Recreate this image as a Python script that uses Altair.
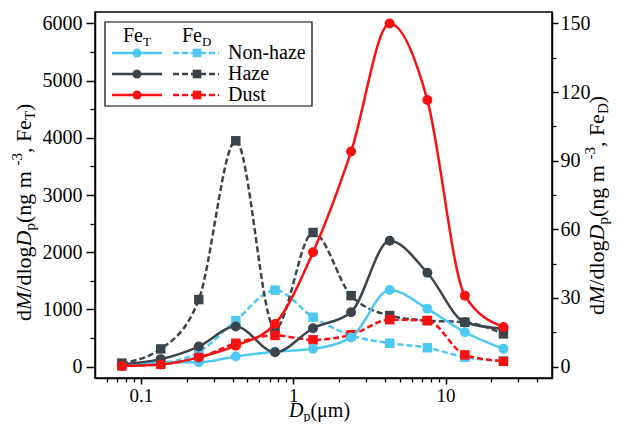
import altair as alt
import pandas as pd

# ---------------- data ----------------
sizes = [0.075, 0.135, 0.24, 0.42, 0.76, 1.35, 2.4, 4.3, 7.6, 13.4, 24.0]
groups = ["Non-haze", "Haze", "Dust"]
colors = ["#4EC8F2", "#3B444B", "#FA1010"]

feT_nonhaze = [20, 80, 75, 175, 260, 310, 510, 1340, 1010, 600, 310]
feT_haze = [40, 130, 350, 700, 250, 670, 950, 2200, 1640, 775, 660]
feT_dust = [10, 35, 160, 365, 745, 2000, 3760, 6000, 4660, 1240, 690]

feD_nonhaze = [0.5, 1.5, 6.3, 20.1, 33.4, 21.6, 13.6, 10.2, 8.2, 4.1, 2.5]
feD_haze = [1.5, 7.7, 29.3, 98.7, 16.5, 58.6, 31.0, 22.3, 20.1, 19.4, 14.3]
feD_dust = [0.3, 1.0, 3.8, 10.2, 13.6, 11.7, 13.9, 20.5, 20.1, 5.1, 2.3]

x_ticks = [0.1, 1, 10]
x_minor = [0.06, 0.07, 0.08, 0.09, 0.2, 0.3, 0.4, 0.5, 0.6, 0.7, 0.8, 0.9,
           2, 3, 4, 5, 6, 7, 8, 9, 20, 30, 40]
yT_ticks = [0, 1000, 2000, 3000, 4000, 5000, 6000]
yT_minor = [500, 1500, 2500, 3500, 4500, 5500]
yD_ticks = [0, 30, 60, 90, 120, 150]
yD_minor = [15, 45, 75, 105, 135]


def long(series):
    rows = []
    for g, vals in zip(groups, series):
        for s, v in zip(sizes, vals):
            rows.append({"size": s, "value": v, "group": g})
    return pd.DataFrame(rows)


dT = long([feT_nonhaze, feT_haze, feT_dust])
dD = long([feD_nonhaze, feD_haze, feD_dust])

# ---------------- style ----------------
FONT = "Liberation Serif"
W, H = 457, 366
X_DOM = [0.05, 50]
YT_DOM = [-200, 6200]
YD_DOM = [-5, 155]
DASH = [6, 3]


def xs():
    return alt.Scale(type="log", domain=X_DOM, nice=False)


def yts():
    return alt.Scale(domain=YT_DOM, nice=False, zero=False)


def yds():
    return alt.Scale(domain=YD_DOM, nice=False, zero=False)


color = alt.Color("group:N", scale=alt.Scale(domain=groups, range=colors), legend=None)
lab = dict(labelFont=FONT, labelColor="black", grid=False, title=None,
           tickColor="black", tickWidth=1.5, domainColor="black", domainWidth=1.5)

x_axis = alt.Axis(values=x_ticks, format="~g", tickSize=6, labelPadding=2,
                  labelFontSize=19, labelFlush=False, orient="bottom", **lab)
yT_axis = alt.Axis(values=yT_ticks, format="d", tickSize=9, labelPadding=4,
                   labelFontSize=20, orient="left", **lab)
yD_axis = alt.Axis(values=yD_ticks, format="d", tickSize=6, labelPadding=2,
                   labelFontSize=20, orient="right", **lab)
minor = dict(labels=False, domain=False, grid=False, title=None, tickColor="black",
             tickWidth=1.3)

# data layers
lineD = alt.Chart(dD).mark_line(interpolate="monotone", strokeWidth=2.5,
                                strokeDash=DASH).encode(
    x=alt.X("size:Q", scale=xs(), axis=None),
    y=alt.Y("value:Q", scale=yds(), axis=yD_axis),
    color=color, detail="group:N")
ptsD = alt.Chart(dD).mark_point(shape="square", filled=True, opacity=1,
                                size=90).encode(
    x=alt.X("size:Q", scale=xs(), axis=None),
    y=alt.Y("value:Q", scale=yds(), axis=None),
    color=color)
lineT = alt.Chart(dT).mark_line(interpolate="monotone", strokeWidth=2.5).encode(
    x=alt.X("size:Q", scale=xs(), axis=x_axis),
    y=alt.Y("value:Q", scale=yts(), axis=yT_axis),
    color=color, detail="group:N")
ptsT = alt.Chart(dT).mark_point(shape="circle", filled=True, opacity=1,
                                size=100).encode(
    x=alt.X("size:Q", scale=xs(), axis=None),
    y=alt.Y("value:Q", scale=yts(), axis=None),
    color=color)

# minor tick axes
minorA = alt.Chart(dT).mark_point(opacity=0).encode(
    x=alt.X("size:Q", scale=xs(), axis=alt.Axis(values=x_minor, tickSize=4,
                                                orient="bottom", **minor)),
    y=alt.Y("value:Q", scale=yts(), axis=alt.Axis(values=yT_minor, tickSize=5,
                                                  orient="left", **minor)))
minorB = alt.Chart(dD).mark_point(opacity=0).encode(
    x=alt.X("size:Q", scale=xs(), axis=None),
    y=alt.Y("value:Q", scale=yds(), axis=alt.Axis(values=yD_minor, tickSize=4,
                                                  orient="right", **minor)))

# ---------------- legend ----------------
one = pd.DataFrame({"a": [0]})
leg = pd.DataFrame({"group": groups})
ly = alt.Y("group:N", scale=alt.Scale(type="point", domain=groups, range=[41, 83],
                                      padding=0), axis=None)
box = alt.Chart(one).mark_rect(fill="white", stroke="black", strokeWidth=1.2).encode(
    x=alt.value(10), x2=alt.value(217), y=alt.value(10), y2=alt.value(94))
legT = alt.Chart(leg).mark_rule(strokeWidth=2.5).encode(
    x=alt.value(17), x2=alt.value(67), y=ly, color=color)
legTp = alt.Chart(leg).mark_point(shape="circle", filled=True, opacity=1, size=80).encode(
    x=alt.value(42), y=ly, color=color)
legD = alt.Chart(leg).mark_rule(strokeWidth=2.5, strokeDash=DASH).encode(
    x=alt.value(78), x2=alt.value(124), y=ly, color=color)
legDp = alt.Chart(leg).mark_point(shape="square", filled=True, opacity=1, size=75).encode(
    x=alt.value(102), y=ly, color=color)
legTxt = alt.Chart(leg).mark_text(align="left", baseline="middle", font=FONT,
                                  fontSize=20, color="black").encode(
    x=alt.value(133), y=ly, text="group:N")

# ---------------- rich-text titles ----------------
EM = {'d': 500, '/': 278, 'l': 278, 'o': 500, 'g': 500, ' ': 250, '(': 333, ')': 333,
      'n': 500, 'm': 778, ',': 250, 'F': 556, 'e': 444, 'T': 611, 'D': 722, 'p': 500,
      '3': 500, '-': 333, '\u03bc': 576, 'M': 889}
EM_I = {'M': 833, 'D': 722}


def seg_w(txt, it, fs):
    return sum((EM_I.get(c, EM[c]) if it else EM[c]) for c in txt) * fs / 1000.0


def rich(parts, start, base, vertical):
    rows, pos = [], start
    for txt, it, fs, shift in parts:
        w = seg_w(txt, it, fs)
        if vertical:
            rows.append({"t": txt, "x": base + shift, "y": pos, "fs": fs, "it": it})
            pos -= w
        else:
            rows.append({"t": txt, "x": pos, "y": base + shift, "fs": fs, "it": it})
            pos += w
    return rows


def ylabel(sub):
    return [("d", False, 22, 0), ("M", True, 22, 0), ("/dlog", False, 22, 0),
            ("D", True, 22, 0), ("p", False, 15, 4), (" (ng m", False, 22, 0),
            ("-3", False, 15, -9), (", Fe", False, 22, 0), (sub, False, 15, 4),
            (")", False, 22, 0)]


vert_rows = rich(ylabel("T"), 309, -64, True) + rich(ylabel("D"), 303, 509, True)
xt = [("D", True, 20, 0), ("p", False, 14, 4), (" (\u03bcm)", False, 20, 0)]
hor_rows = rich(xt, 194, 405, False)
hor_rows += rich([("Fe", False, 20, 0), ("T", False, 13, 4)], 28, 30, False)
hor_rows += rich([("Fe", False, 20, 0), ("D", False, 13, 4)], 87, 30, False)

vdf = pd.DataFrame(vert_rows)
hdf = pd.DataFrame(hor_rows)


def text_layer(df, it, angle):
    sub = df[df["it"] == it]
    return alt.Chart(sub).mark_text(align="left", baseline="alphabetic", font=FONT,
                                    fontStyle="italic" if it else "normal",
                                    angle=angle, color="black").encode(
        x=alt.X("x:Q", scale=None), y=alt.Y("y:Q", scale=None),
        text="t:N", size=alt.Size("fs:Q", scale=None))


texts = [text_layer(vdf, False, 270), text_layer(vdf, True, 270),
         text_layer(hdf, False, 0), text_layer(hdf, True, 0)]

chart = alt.layer(
    minorA, minorB, lineD, ptsD, lineT, ptsT,
    box, legT, legD, legTp, legDp, legTxt, *texts
).resolve_scale(
    x="independent", y="independent"
).properties(
    width=W, height=H,
    autosize=alt.AutoSizeParams(type="none"),
    padding={"left": 87, "top": 4, "right": 60, "bottom": 44},
    background="white",
).configure_view(stroke="black", strokeWidth=1.5)

chart.save("out.html", embed_options={"renderer": "svg", "actions": False})
